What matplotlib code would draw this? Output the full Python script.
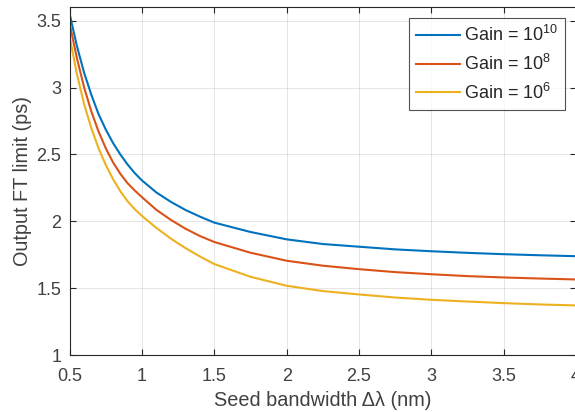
import matplotlib
matplotlib.use("Agg")
import matplotlib.pyplot as plt

# Seed bandwidth (nm) and output FT limit (ps)
bw = [0.5, 0.55, 0.6, 0.65, 0.7, 0.75, 0.8, 0.85, 0.9, 0.95, 1.0,
      1.1, 1.2, 1.3, 1.4, 1.5, 1.75, 2.0, 2.25, 2.5, 2.75, 3.0,
      3.25, 3.5, 3.75, 4.0]
ft_g10 = [3.55, 3.31, 3.11, 2.945, 2.80, 2.685, 2.585, 2.50, 2.425, 2.36, 2.305,
          2.215, 2.145, 2.085, 2.035, 1.99, 1.92, 1.865, 1.83, 1.81, 1.79, 1.776,
          1.764, 1.754, 1.746, 1.739]
ft_g8 = [3.475, 3.22, 3.00, 2.82, 2.67, 2.545, 2.44, 2.355, 2.285, 2.23, 2.18,
         2.085, 2.01, 1.945, 1.89, 1.845, 1.765, 1.705, 1.668, 1.642, 1.62, 1.604,
         1.59, 1.58, 1.572, 1.565]
ft_g6 = [3.38, 3.10, 2.875, 2.695, 2.545, 2.42, 2.315, 2.225, 2.15, 2.09, 2.04,
         1.95, 1.87, 1.80, 1.737, 1.68, 1.585, 1.518, 1.478, 1.453, 1.43, 1.413,
         1.40, 1.388, 1.378, 1.371]

labels = ["Gain = $10^{10}$", "Gain = $10^{8}$", "Gain = $10^{6}$"]
colors = ["#0072BD", "#D95319", "#EDB120"]

x_ticks = [0.5, 1, 1.5, 2, 2.5, 3, 3.5, 4]
y_ticks = [1, 1.5, 2, 2.5, 3, 3.5]

plt.rcParams["font.family"] = ["Liberation Sans", "DejaVu Sans"]
plt.rcParams["mathtext.fontset"] = "custom"
plt.rcParams["mathtext.rm"] = "Liberation Sans"
plt.rcParams["mathtext.it"] = "Liberation Sans:italic"

axis_col = "#262626"
text_col = "#404040"

fig = plt.figure(figsize=(5.75, 4.12), dpi=100)
ax = fig.add_axes([0.1212, 0.1383, 0.8805, 0.8439])

for ys, lab, col in zip([ft_g10, ft_g8, ft_g6], labels, colors):
    ax.plot(bw, ys, color=col, lw=1.5, label=lab)

ax.set_xlim(0.5, 4)
ax.set_ylim(1, 3.6)
ax.set_xticks(x_ticks)
ax.set_xticklabels([f"{v:g}" for v in x_ticks])
ax.set_yticks(y_ticks)
ax.set_yticklabels([f"{v:g}" for v in y_ticks])

ax.grid(True, color="#262626", alpha=0.12, lw=0.7)
ax.tick_params(direction="in", length=4, width=0.8, top=True, right=True,
               colors=axis_col, labelcolor=text_col, labelsize=13)
ax.tick_params(axis="x", pad=9)
ax.tick_params(axis="y", pad=6)
for s in ax.spines.values():
    s.set_color(axis_col)
    s.set_linewidth(0.8)

ax.set_xlabel("Seed bandwidth Δλ (nm)", fontsize=14.3, color=text_col, labelpad=5)
ax.set_ylabel("Output FT limit (ps)", fontsize=14.3, color=text_col, labelpad=3)

leg = ax.legend(loc="upper right", fontsize=13, frameon=True, fancybox=False,
                handlelength=2.45, handletextpad=0.2, labelspacing=0.48,
                borderaxespad=0.6, borderpad=0.38, labelcolor="#262626")
leg.get_frame().set_edgecolor("#262626")
leg.get_frame().set_linewidth(0.8)

fig.savefig("out.png", dpi=100)
